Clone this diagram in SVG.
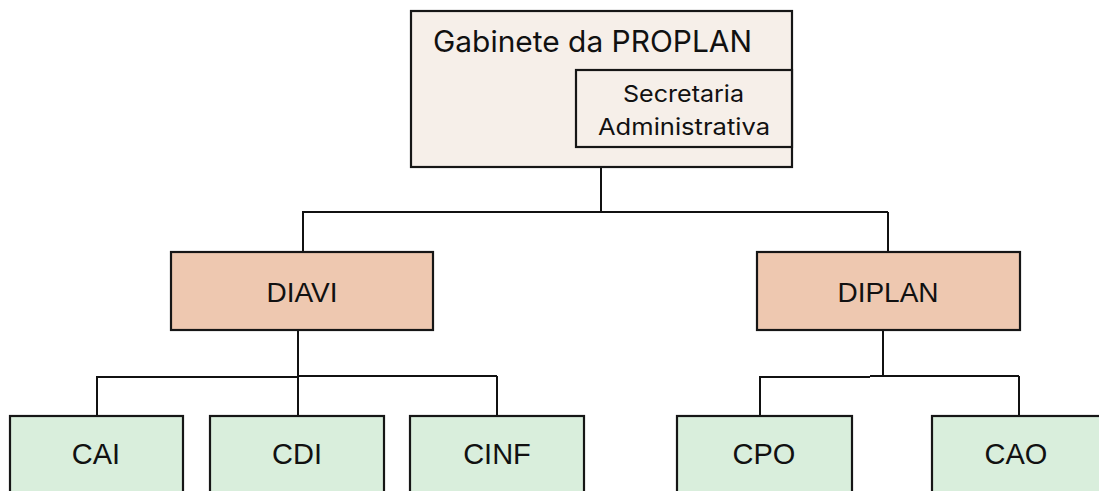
<svg xmlns="http://www.w3.org/2000/svg" width="1099" height="491" viewBox="0 0 1099 491">
<style>
.box{stroke:#161616;stroke-width:2.2}
.top{fill:#F6EFE9}
.dir{fill:#EEC8B0}
.co{fill:#D9EEDC}
.t{font-family:"Liberation Sans",Arial,sans-serif;fill:#111;text-anchor:middle}
.ti{font-family:Inter,"Liberation Sans",Arial,sans-serif;fill:#111;text-anchor:start}
.conn{stroke:#111;stroke-width:2;fill:none}
</style>
<rect width="1099" height="491" fill="#fff"/>
<g id="connectors">
<path class="conn" d="M601 167V212M302 212H888M303 212V252M888 212V252"/>
<path class="conn" d="M298 330V376M97 377H298M298 376H497M97 376V416M298 376V416M497 376V416"/>
<path class="conn" d="M883 330V376M760 377H870M870 376H1019M760 376V416M1019 376V416"/>
</g>
<g id="gabinete">
<rect class="box top" x="411" y="11" width="381" height="156"/>
<text class="ti" x="433" y="52" font-size="29.5" textLength="319" lengthAdjust="spacingAndGlyphs">Gabinete da PROPLAN</text>
</g>
<g id="secretaria">
<rect class="box top" x="576" y="70" width="216" height="77"/>
<text class="ti" x="623" y="102" font-size="23" textLength="121" lengthAdjust="spacingAndGlyphs">Secretaria</text>
<text class="ti" x="598" y="135" font-size="23" textLength="172" lengthAdjust="spacingAndGlyphs">Administrativa</text>
</g>
<g id="diavi">
<rect class="box dir" x="171" y="252" width="262" height="78"/>
<text class="t" x="302" y="302" font-size="28">DIAVI</text>
</g>
<g id="diplan">
<rect class="box dir" x="757" y="252" width="263" height="78"/>
<text class="t" x="888" y="302" font-size="28">DIPLAN</text>
</g>
<g id="cai">
<rect class="box co" x="10" y="416" width="173" height="90"/>
<text class="t" x="96" y="464" font-size="29">CAI</text>
</g>
<g id="cdi">
<rect class="box co" x="210" y="416" width="174" height="90"/>
<text class="t" x="297" y="464" font-size="29">CDI</text>
</g>
<g id="cinf">
<rect class="box co" x="410" y="416" width="174" height="90"/>
<text class="t" x="497" y="464" font-size="29">CINF</text>
</g>
<g id="cpo">
<rect class="box co" x="677" y="416" width="175" height="90"/>
<text class="t" x="764" y="464" font-size="29">CPO</text>
</g>
<g id="cao">
<rect class="box co" x="932" y="416" width="180" height="90"/>
<text class="t" x="1016" y="464" font-size="29">CAO</text>
</g>
</svg>
